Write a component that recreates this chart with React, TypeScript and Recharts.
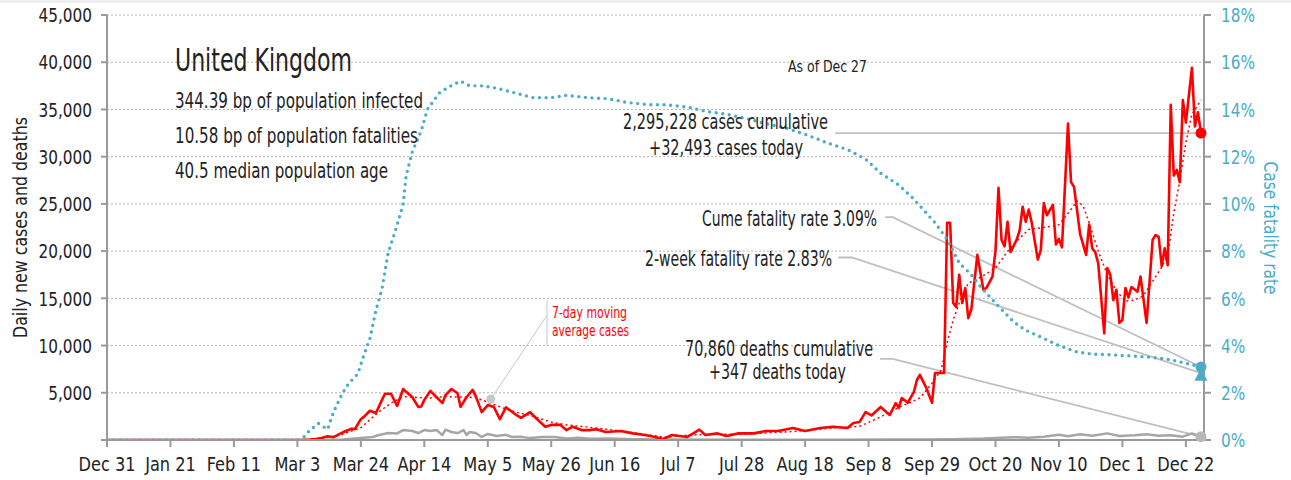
import React from "react";
import { LineChart, Line, XAxis, YAxis, CartesianGrid, ReferenceDot } from "recharts";

const FONT = '"Liberation Sans Narrow", "DejaVu Sans Condensed", "Arial Narrow", sans-serif';
const RED = "#ff0000";
const TEAL = "#4bacc6";
const GRAY = "#a6a6a6";
const LEADER = "#bfbfbf";
const INK = "#222222";

// x axis: day index counted from Dec 31, 2019
const tickDays = [0, 21, 42, 63, 84, 105, 126, 147, 168, 189, 210, 231, 252, 273, 294, 315, 336, 357];
const tickLabels = ["Dec 31", "Jan 21", "Feb 11", "Mar 3", "Mar 24", "Apr 14", "May 5", "May 26", "Jun 16", "Jul 7", "Jul 28", "Aug 18", "Sep 8", "Sep 29", "Oct 20", "Nov 10", "Dec 1", "Dec 22"];
const leftTicks = [0, 5000, 10000, 15000, 20000, 25000, 30000, 35000, 40000, 45000];
const rightTicks = [0, 2, 4, 6, 8, 10, 12, 14, 16, 18];

// daily new cases
const caseDays = [0, 64, 67, 69, 71, 73, 75, 77, 79, 81, 82, 84, 85, 87, 89, 91, 92, 94, 96, 98, 99, 101, 103, 104, 105, 107, 109, 111, 112, 114, 116, 117, 119, 121, 122, 124, 126, 128, 130, 132, 135, 137, 140, 142, 145, 147, 150, 152, 154, 157, 160, 162, 165, 170, 174, 178, 181, 184, 187, 190, 192, 194, 196, 198, 202, 205, 209, 214, 218, 222, 227, 231, 236, 240, 245, 247, 249, 251, 253, 256, 259, 261, 262, 263, 265, 267, 268, 269, 271, 273, 274, 276, 277, 278, 279, 280, 281, 282, 283, 284, 285, 286, 288, 290, 291, 293, 294, 295, 296, 297, 298, 299, 301, 302, 303, 304, 305, 306, 308, 309, 310, 311, 313, 314, 315, 316, 318, 319, 320, 322, 324, 325, 326, 327, 328, 330, 331, 332, 333, 334, 335, 336, 337, 338, 339, 341, 342, 344, 346, 347, 348, 349, 350, 351, 352, 353, 354, 355, 356, 357, 359, 360, 361, 362];
const caseValues = [0, 0, 50, 100, 200, 400, 300, 650, 950, 1200, 1150, 2200, 2450, 3100, 2850, 4250, 4900, 4900, 3600, 5400, 5100, 4550, 3500, 3550, 4250, 5200, 4550, 3900, 4750, 5400, 4950, 3500, 4550, 5300, 4650, 2950, 3700, 3500, 2200, 3450, 2750, 2350, 2950, 2300, 1400, 1600, 1600, 1050, 1400, 1050, 1050, 1150, 850, 950, 700, 530, 350, 100, 530, 400, 320, 700, 1100, 530, 700, 420, 700, 700, 950, 950, 1270, 950, 1270, 1400, 1270, 1800, 1900, 2950, 2600, 3500, 2650, 3900, 3400, 4450, 3950, 5100, 6350, 6900, 5600, 3950, 7100, 7100, 7100, 23000, 23000, 14500, 14100, 17500, 14500, 16100, 12900, 13800, 19600, 15900, 16100, 17300, 20000, 26700, 21200, 20500, 23100, 19900, 21200, 22200, 24700, 23100, 24400, 23000, 19100, 20100, 25100, 23800, 24900, 20700, 21300, 20400, 33500, 27300, 26800, 21800, 19600, 22800, 20300, 19900, 18700, 11300, 18200, 17500, 14800, 15900, 12400, 12700, 16100, 15100, 16200, 15700, 17300, 12400, 21200, 21700, 21500, 18400, 20300, 18500, 35500, 28000, 28600, 27300, 36000, 33600, 39400, 33200, 34700, 32493];

// 7-day moving average of cases
const avgDays = [0, 66, 70, 77, 84, 90, 94, 98, 103, 107, 112, 116, 122, 126, 131, 136, 140, 147, 152, 158, 165, 170, 176, 181, 185, 190, 194, 200, 209, 215, 220, 225, 231, 236, 240, 245, 249, 253, 256, 259, 263, 266, 269, 273, 276, 278, 280, 282, 285, 290, 294, 299, 305, 312, 315, 318, 321, 323, 325, 328, 331, 334, 337, 340, 343, 346, 349, 351, 353, 355, 357, 359, 362];
const avgValues = [0, 0, 100, 500, 1300, 3000, 3900, 4600, 4500, 4450, 4600, 4550, 4500, 4000, 3400, 2900, 2600, 1900, 1600, 1400, 1150, 950, 700, 450, 300, 450, 550, 600, 600, 700, 800, 850, 1000, 1150, 1270, 1350, 1450, 2000, 2450, 2950, 3600, 4000, 4450, 6000, 7400, 10300, 12700, 14500, 16600, 17400, 18200, 20400, 22300, 22600, 22800, 24000, 25300, 24800, 23000, 20000, 17500, 15800, 14700, 14800, 15300, 16800, 18300, 19500, 24000, 27500, 31500, 34500, 36000];

// daily deaths
const deathDays = [0, 70, 78, 84, 88, 90, 93, 96, 98, 101, 103, 105, 107, 109, 111, 112, 114, 116, 118, 119, 120, 122, 124, 126, 129, 132, 134, 137, 140, 144, 148, 152, 156, 160, 166, 175, 190, 210, 240, 260, 270, 280, 290, 300, 305, 310, 315, 318, 322, 326, 331, 335, 340, 344, 348, 352, 356, 359, 362];
const deathValues = [0, 0, 50, 200, 320, 530, 740, 700, 1050, 950, 740, 1050, 950, 1050, 530, 1100, 850, 740, 1050, 530, 850, 750, 320, 640, 420, 550, 320, 350, 200, 330, 320, 150, 250, 120, 150, 80, 60, 30, 20, 50, 60, 80, 150, 300, 250, 350, 550, 400, 600, 450, 700, 420, 500, 600, 450, 500, 350, 700, 347];

// case fatality rate, %
const cfrDays = [0, 63, 65, 67, 70, 73, 75, 78, 80, 83, 85, 87, 89, 91, 93, 96, 98, 99, 101, 104, 106, 110, 113, 117, 120, 124, 129, 135, 141, 147, 152, 159, 166, 172, 179, 185, 192, 199, 205, 212, 218, 225, 232, 238, 245, 251, 256, 262, 267, 274, 278, 282, 286, 289, 294, 297, 300, 304, 310, 315, 321, 326, 333, 339, 346, 352, 358, 362];
const cfrValues = [0, 0, 0.1, 0.4, 0.7, 0.45, 1.2, 2.0, 2.4, 2.8, 3.6, 4.3, 5.5, 6.4, 7.9, 9.1, 10.0, 11.2, 12.2, 13.1, 14.0, 14.7, 14.95, 15.2, 15.0, 15.0, 14.9, 14.7, 14.5, 14.5, 14.6, 14.5, 14.45, 14.3, 14.2, 14.2, 14.1, 13.9, 13.8, 13.6, 13.4, 13.2, 12.9, 12.6, 12.3, 11.9, 11.3, 10.8, 10.2, 9.2, 8.5, 7.5, 7.0, 6.5, 5.8, 5.4, 5.0, 4.65, 4.3, 4.0, 3.73, 3.64, 3.6, 3.56, 3.5, 3.4, 3.22, 3.09];

// latest values
const lastDay = 362;
const casesToday = 32493;
const deathsToday = 347;
const cumeFatality = 3.09;
const twoWeekFatality = 2.83;

// annotation leader lines (data coordinates)
const caseLeaderDays = [241, lastDay];
const caseLeaderValues = [casesToday, casesToday];
const cumeLeaderDays = [257.5, 260, lastDay];
const cumeLeaderValues = [9.44, 9.44, cumeFatality];
const twoWeekLeaderDays = [242, 246.5, lastDay];
const twoWeekLeaderValues = [7.73, 7.73, twoWeekFatality];
const deathLeaderDays = [255.8, 260, lastDay];
const deathLeaderValues = [8580, 8580, deathsToday];
const avgPointerDays = [127, 145.6];
const avgPointerValues = [4340, 13200];
const avgBracketDays = [145.6, 145.6];
const avgBracketValues = [10000, 14800];

const zip = (days: number[], values: number[]) => days.map((d, i) => ({ day: d, value: values[i] }));

const cases = zip(caseDays, caseValues);
const avg = zip(avgDays, avgValues);
const deaths = zip(deathDays, deathValues);
const cfr = zip(cfrDays, cfrValues);

const tickLabel = (v: number) => {
  const i = tickDays.indexOf(v);
  return i >= 0 ? tickLabels[i] : "";
};

const TICK_SIZE = 20;

const XTick = (props: any) => {
  const { x, y, payload } = props;
  return (
    <text transform={`translate(${x},${y}) scale(0.9,1)`} textAnchor="middle" dy="0.75em" fill={INK} fontSize={TICK_SIZE}>
      {tickLabel(payload.value)}
    </text>
  );
};

const LeftTick = (props: any) => {
  const { x, y, payload } = props;
  const v = payload.value as number;
  return (
    <text transform={`translate(${x},${y}) scale(0.85,1)`} textAnchor="end" dy="0.36em" fill={INK} fontSize={TICK_SIZE}>
      {v === 0 ? "" : v.toLocaleString("en-US")}
    </text>
  );
};

const RightTick = (props: any) => {
  const { x, y, payload } = props;
  return (
    <text transform={`translate(${x},${y}) scale(0.85,1)`} textAnchor="start" dy="0.36em" fill={TEAL} fontSize={TICK_SIZE}>
      {`${payload.value}%`}
    </text>
  );
};

type TxtProps = {
  x: number;
  y: number;
  len: number;
  size: number;
  anchor?: "start" | "middle" | "end";
  color?: string;
  weight?: number | string;
  rotate?: number;
  children: React.ReactNode;
};

const Txt = ({ x, y, len, size, anchor = "start", color = INK, weight = "normal", rotate = 0, children }: TxtProps) => (
  <text
    transform={`translate(${x},${y}) rotate(${rotate})`}
    textAnchor={anchor}
    dominantBaseline="central"
    fontSize={size}
    fill={color}
    fontWeight={weight}
    textLength={len}
    lengthAdjust="spacingAndGlyphs"
  >
    {children}
  </text>
);

const Triangle = (props: any) => {
  const { cx, cy } = props;
  return <path d={`M${cx},${cy - 5} L${cx + 6.5},${cy + 7.5} L${cx - 6.5},${cy + 7.5} Z`} fill={TEAL} />;
};

const leader = { stroke: LEADER, strokeWidth: 1.8, dot: false, activeDot: false, isAnimationActive: false } as const;

export default function App() {
  return (
    <div style={{ position: "absolute", left: 0, top: 0, width: 1291, height: 480, background: "#fff", fontFamily: FONT }}>
      <div style={{ position: "absolute", left: 0, top: 0, width: 1291, height: 3, background: "#efefef" }} />
      <LineChart width={1291} height={480} margin={{ top: 15, right: 27, bottom: 10, left: 27 }}>
        <CartesianGrid vertical={false} yAxisId="left" stroke="#b5b5b5" strokeDasharray="2 2" />
        <XAxis
          dataKey="day"
          type="number"
          domain={[0, 363]}
          ticks={tickDays}
          interval={0}
          height={30}
          tickSize={7}
          tickMargin={9}
          axisLine={{ stroke: "#9a9a9a", strokeWidth: 2 }}
          tickLine={{ stroke: "#9a9a9a", strokeWidth: 2 }}
          tick={<XTick />}
          allowDataOverflow
        />
        <YAxis
          yAxisId="left"
          domain={[0, 45000]}
          ticks={leftTicks}
          interval={0}
          width={80}
          tickSize={6}
          tickMargin={9}
          axisLine={{ stroke: "#9a9a9a", strokeWidth: 2 }}
          tickLine={{ stroke: "#9a9a9a", strokeWidth: 2 }}
          tick={<LeftTick />}
          allowDataOverflow
        />
        <YAxis
          yAxisId="right"
          orientation="right"
          domain={[0, 18]}
          ticks={rightTicks}
          interval={0}
          width={60}
          tickSize={7}
          tickMargin={10}
          axisLine={{ stroke: "#9a9a9a", strokeWidth: 2 }}
          tickLine={{ stroke: "#9a9a9a", strokeWidth: 2 }}
          tick={<RightTick />}
          allowDataOverflow
        />

        <Line data={zip(caseLeaderDays, caseLeaderValues)} dataKey="value" yAxisId="left" {...leader} />
        <Line data={zip(cumeLeaderDays, cumeLeaderValues)} dataKey="value" yAxisId="right" {...leader} />
        <Line data={zip(twoWeekLeaderDays, twoWeekLeaderValues)} dataKey="value" yAxisId="right" {...leader} />
        <Line data={zip(deathLeaderDays, deathLeaderValues)} dataKey="value" yAxisId="left" {...leader} />
        <Line data={zip(avgPointerDays, avgPointerValues)} dataKey="value" yAxisId="left" {...leader} strokeWidth={1} stroke="#c8c8c8" />
        <Line data={zip(avgBracketDays, avgBracketValues)} dataKey="value" yAxisId="left" {...leader} strokeWidth={1} stroke="#c8c8c8" />

        <Line data={deaths} dataKey="value" yAxisId="left" stroke={GRAY} strokeWidth={2.5} dot={false} activeDot={false} isAnimationActive={false} strokeLinejoin="round" />
        <Line data={cases} dataKey="value" yAxisId="left" stroke={RED} strokeWidth={2.6} dot={false} activeDot={false} isAnimationActive={false} strokeLinejoin="round" />
        <Line data={avg} dataKey="value" yAxisId="left" stroke={RED} strokeWidth={1.5} strokeDasharray="2 3" dot={false} activeDot={false} isAnimationActive={false} />
        <Line data={cfr} dataKey="value" yAxisId="right" stroke={TEAL} strokeWidth={3.4} strokeDasharray="0 6.6" strokeLinecap="round" dot={false} activeDot={false} isAnimationActive={false} />

        <ReferenceDot x={127} y={4340} yAxisId="left" r={4.5} fill="#c8c8c8" stroke="none" />
        <ReferenceDot x={lastDay} y={casesToday} yAxisId="left" r={5.5} fill={RED} stroke="none" />
        <ReferenceDot x={lastDay} y={deathsToday} yAxisId="left" r={5.5} fill="#b8b8b8" stroke="none" />
        <ReferenceDot x={lastDay} y={twoWeekFatality} yAxisId="right" shape={Triangle} />
        <ReferenceDot x={lastDay} y={cumeFatality} yAxisId="right" r={5.5} fill={TEAL} stroke="none" />
      </LineChart>

      <svg width={1291} height={480} style={{ position: "absolute", left: 0, top: 0, pointerEvents: "none", fontFamily: FONT }}>
        <Txt x={175} y={60} len={177} size={32}>United Kingdom</Txt>
        <Txt x={175} y={101} len={248} size={21}>344.39 bp of population infected</Txt>
        <Txt x={175} y={136} len={243} size={21}>10.58 bp of population fatalities</Txt>
        <Txt x={175} y={171} len={213} size={21}>40.5 median population age</Txt>
        <Txt x={867} y={66} len={79} size={16} anchor="end">As of Dec 27</Txt>
        <Txt x={725.5} y={122} len={205} size={21} anchor="middle">2,295,228 cases cumulative</Txt>
        <Txt x={726} y={148} len={154} size={21} anchor="middle">+32,493 cases today</Txt>
        <Txt x={877} y={219} len={175} size={21} anchor="end">Cume fatality rate 3.09%</Txt>
        <Txt x={832} y={259} len={187} size={21} anchor="end">2-week fatality rate 2.83%</Txt>
        <Txt x={779} y={349} len={188} size={21} anchor="middle">70,860 deaths cumulative</Txt>
        <Txt x={777.5} y={372} len={137} size={21} anchor="middle">+347 deaths today</Txt>
        <Txt x={552} y={312} len={75} size={16} color={RED}>7-day moving</Txt>
        <Txt x={552} y={330} len={77} size={16} color={RED}>average cases</Txt>
        <Txt x={20} y={227.5} len={221} size={19} anchor="middle" rotate={-90}>Daily new cases and deaths</Txt>
        <Txt x={1271} y={228} len={133} size={20} anchor="middle" rotate={90} color={TEAL}>Case fatality rate</Txt>
      </svg>
    </div>
  );
}
